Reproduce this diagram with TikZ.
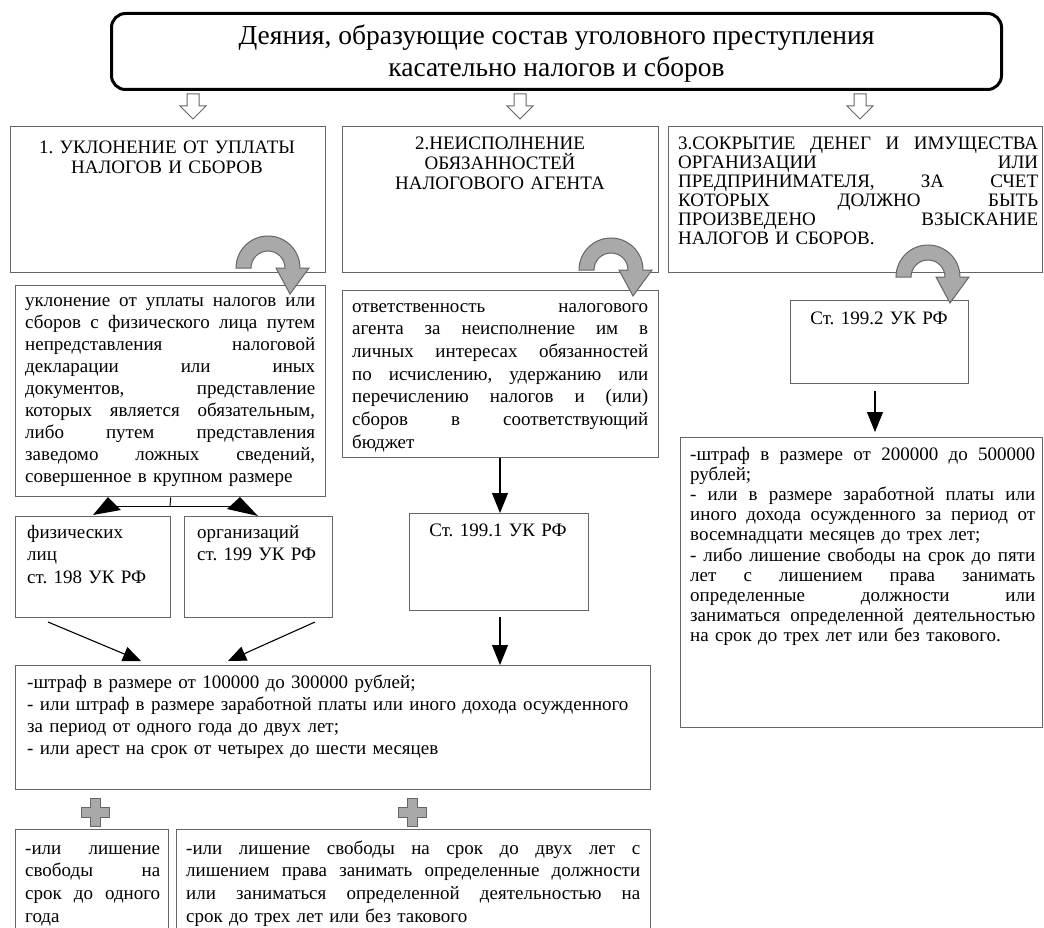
\documentclass[tikz,border=0pt]{standalone}
\usepackage{fontspec}
\setmainfont{Liberation Serif}
\usetikzlibrary{arrows.meta,calc}
\definecolor{bordergray}{HTML}{666666}
\definecolor{arrowfill}{HTML}{A9A9A9}
\definecolor{arrowline}{HTML}{666666}
\frenchspacing
\newcommand\jl[1]{{\spaceskip=0pt\xspaceskip=0pt\makebox[\linewidth][s]{#1}}}
\tikzset{
  box/.style={draw=bordergray, line width=1.4pt, inner sep=0pt, anchor=north west, rectangle},
  txt/.style={inner sep=0pt, anchor=base west, align=left, font={\fontsize{19}{#1}\selectfont}},
  ctxt/.style={inner sep=0pt, anchor=base, align=center, font={\fontsize{19}{#1}\selectfont}},
  blk/.style={line width=1.1pt, -{Triangle[length=20pt,width=16pt]}},
  hollow/.pic={\draw[arrowline, fill=white, line width=1pt] (-6,0) -- (6,0) -- (6,12) -- (13,12) -- (0,25) -- (-13,12) -- (-6,12) -- cycle;},
  curv/.pic={\begin{scope}[yscale=-1]
     \filldraw[fill=arrowfill, draw=arrowline, line width=1pt]
       (180:32) arc[start angle=180, end angle=0, radius=32] -- (41,0) -- (22,-26)
       -- (8,0) -- (17,0) arc[start angle=0, end angle=180, radius=17] -- cycle;
     \end{scope}},
  plus/.pic={\filldraw[fill=arrowfill, draw=arrowline, line width=1pt]
     (-5,-14) -- (5,-14) -- (5,-5) -- (14,-5) -- (14,5) -- (5,5) -- (5,14) -- (-5,14)
     -- (-5,5) -- (-14,5) -- (-14,-5) -- (-5,-5) -- cycle;}
}
\begin{document}
\begin{tikzpicture}[x=1pt,y=-1pt]
\useasboundingbox (0,0) rectangle (1044,928);
\clip (0,0) rectangle (1044,928);
\fill[white] (0,0) rectangle (1044,928);

% title
\node[draw=black, line width=3pt, rounded corners=14pt, inner sep=0pt, anchor=north west,
      minimum width=890, minimum height=76] (T) at (110,12) {};
\node[inner sep=0pt, align=center, font={\fontsize{27.5}{32}\selectfont}] (Tt) at ($(T.center)+(0,2)$)
  {Деяния, образующие состав уголовного преступления\\касательно налогов и сборов};

% hollow arrows
\pic at (193,94) {hollow};
\pic at (520,94) {hollow};
\pic at (860,94) {hollow};

% row 1 boxes
\node[box, minimum width=315, minimum height=146] (B1) at (10,126) {};
\node[box, minimum width=316, minimum height=146] (B2) at (342,126) {};
\node[box, minimum width=374, minimum height=146] (B3) at (668,126) {};
\node[ctxt=20, text width=300] (B1t) at (167,154) {1. УКЛОНЕНИЕ ОТ УПЛАТЫ\\НАЛОГОВ И СБОРОВ};
\node[ctxt=20, text width=300] (B2t) at (500,150) {2.НЕИСПОЛНЕНИЕ\\ОБЯЗАННОСТЕЙ\\НАЛОГОВОГО АГЕНТА};
\node[txt=19, text width=360] (B3t) at (678,150) {\jl{3.СОКРЫТИЕ ДЕНЕГ И ИМУЩЕСТВА}\\\jl{ОРГАНИЗАЦИИ ИЛИ}\\\jl{ПРЕДПРИНИМАТЕЛЯ, ЗА СЧЕТ}\\\jl{КОТОРЫХ ДОЛЖНО БЫТЬ}\\\jl{ПРОИЗВЕДЕНО ВЗЫСКАНИЕ}\\НАЛОГОВ И СБОРОВ.};

% row 2 boxes
\node[box, minimum width=310, minimum height=211] (B1b) at (15,285) {};
\node[box, minimum width=316, minimum height=167] (B2b) at (342,290) {};
\node[box, minimum width=178, minimum height=83] (B3b) at (790,300) {};
\node[txt=22, text width=290] (B1bt) at (25,306) {\jl{уклонение от уплаты налогов или}\\\jl{сборов с физического лица путем}\\\jl{непредставления налоговой}\\\jl{декларации или иных}\\\jl{документов, представление}\\\jl{которых является обязательным,}\\\jl{либо путем представления}\\\jl{заведомо ложных сведений,}\\совершенное в крупном размере};
\node[txt=22.7, text width=296] (B2bt) at (352,312) {\jl{ответственность налогового}\\\jl{агента за неисполнение им в}\\\jl{личных интересах обязанностей}\\\jl{по исчислению, удержанию или}\\\jl{перечислению налогов и (или)}\\\jl{сборов в соответствующий}\\бюджет};
\node[ctxt=20, text width=170] (B3bt) at (879,324) {Ст. 199.2 УК РФ};

% curved arrows
\pic at (268,268) {curv};
\pic at (611,270) {curv};
\pic at (928,277) {curv};

% right column penalties
\node[box, minimum width=362, minimum height=290] (B3c) at (680,437) {};
\node[txt=20.2, text width=345] (B3ct) at (690,460) {\jl{-штраф в размере от 200000 до 500000}\\рублей;\\\jl{- или в размере заработной платы или}\\\jl{иного дохода осужденного за период от}\\восемнадцати месяцев до трех лет;\\\jl{- либо лишение свободы на срок до пяти}\\\jl{лет с лишением права занимать}\\\jl{определенные должности или}\\\jl{заниматься определенной деятельностью}\\на срок до трех лет или без такового.};
\draw[blk, shorten <=7pt, shorten >=5pt] (B3b.south -| 875,0) -- (B3c.north -| 875,0);

% row 3
\node[box, minimum width=155, minimum height=101] (F) at (15,516) {};
\node[box, minimum width=148, minimum height=101] (O) at (184,516) {};
\node[box, minimum width=179, minimum height=97] (S1) at (409,513) {};
\node[txt=22.5, text width=140] (Ft) at (27,538) {физических\\лиц\\ст. 198 УК РФ};
\node[txt=22.5, text width=140] (Ot) at (197,538) {организаций\\ст. 199 УК РФ};
\node[ctxt=20, text width=170] (S1t) at (498,536) {Ст. 199.1 УК РФ};

% connectors under B1b
\coordinate (J) at (170,506);
\coordinate (JL) at (115,506);
\coordinate (JR) at (233,506);
\draw[line width=1pt] (B1b.south) -- (J);
\draw[line width=1pt] (JL) -- (JR);
\fill[black] (108,497) -- (93,515) -- (121,510) -- cycle;
\fill[black] (240,497) -- (227,509) -- (258,516) -- cycle;

\draw[blk] (B2b.south -| 500,0) -- (S1.north -| 500,0);

% penalty box
\node[box, minimum width=635, minimum height=124] (P) at (15,665) {};
\node[txt=22.3, text width=620] (Pt) at (27,688) {-штраф в размере от 100000 до 300000 рублей;\\- или штраф в размере заработной платы или иного дохода осужденного\\за период от одного года до двух лет;\\- или арест на срок от четырех до шести месяцев};

\coordinate (Fa) at (48,622);
\coordinate (Pa) at (141,661);
\coordinate (Oa) at (315,622);
\coordinate (Pb) at (228,661);
\draw[blk, -{Triangle[length=18pt,width=15pt]}] (Fa) -- (Pa);
\draw[blk, -{Triangle[length=18pt,width=15pt]}] (Oa) -- (Pb);
\draw[blk, shorten <=6pt] (S1.south -| 500,0) -- (P.north -| 500,0);

% plus signs
\pic at (95,812) {plus};
\pic at (412,812) {plus};

% bottom boxes
\node[box, minimum width=153, minimum height=120] (L1) at (15,829) {};
\node[box, minimum width=474, minimum height=120] (L2) at (176,829) {};
\node[txt=22.7, text width=135] (L1t) at (25,854) {\jl{-или лишение}\\\jl{свободы на}\\\jl{срок до одного}\\года};
\node[txt=22.7, text width=454] (L2t) at (186,854) {\jl{-или лишение свободы на срок до двух лет с}\\\jl{лишением права занимать определенные должности}\\\jl{или заниматься определенной деятельностью на}\\срок до трех лет или без такового};
\end{tikzpicture}
\end{document}
